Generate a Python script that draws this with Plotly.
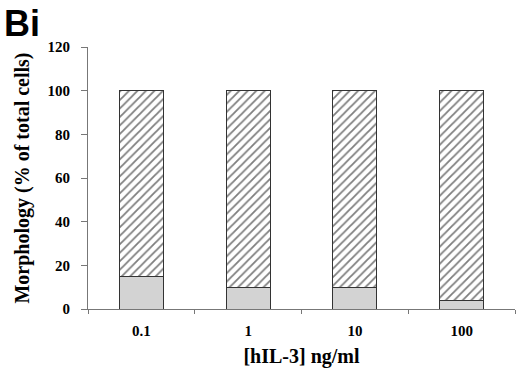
import plotly.graph_objects as go

categories = ["0.1", "1", "10", "100"]
gray_values = [15, 10, 10, 4]
hatched_values = [85, 90, 90, 96]
y_ticks = [0, 20, 40, 60, 80, 100, 120]

serif = "Liberation Serif, Times New Roman, serif"

fig = go.Figure()
fig.add_trace(go.Bar(
    x=categories, y=gray_values, width=0.41,
    marker=dict(color="#d3d3d3", line=dict(color="#333", width=1)),
    showlegend=False,
))
fig.add_trace(go.Bar(
    x=categories, y=hatched_values, width=0.41,
    marker=dict(color="white", line=dict(color="#333", width=1),
                pattern=dict(shape="/", fgcolor="#000", bgcolor="white",
                             size=6, solidity=0.3, fillmode="overlay")),
    showlegend=False,
))

fig.update_layout(
    barmode="stack",
    width=520, height=372,
    margin=dict(l=88, r=5, t=47, b=63, autoexpand=False),
    plot_bgcolor="white", paper_bgcolor="white",
    font=dict(family=serif, color="#111"),
    xaxis=dict(
        type="category", tickson="boundaries", ticks="outside", ticklen=4,
        tickcolor="#777", showline=True, linecolor="#777", linewidth=1,
        showgrid=False, range=[-0.5, 3.5],
        tickfont=dict(family=serif, size=15, color="#000", weight="bold"),
        ticklabelstandoff=8,
        title=dict(text="<b>[hIL-3] ng/ml</b>", font=dict(family=serif, size=20, color="#000"), standoff=10),
    ),
    yaxis=dict(
        range=[0, 120], tickvals=y_ticks, ticks="outside", ticklen=6,
        tickcolor="#777", showline=True, linecolor="#777", linewidth=1,
        showgrid=False, zeroline=False,
        tickfont=dict(family=serif, size=15, color="#000", weight="bold"),
        ticklabelstandoff=8,
        title=dict(text="<b>Morphology (% of total cells)</b>", font=dict(family=serif, size=20, color="#000"), standoff=12),
    ),
    annotations=[dict(
        text="<b>Bi</b>", x=0, y=1, xref="paper", yref="paper",
        xanchor="left", yanchor="top", showarrow=False,
        font=dict(family="Liberation Sans, Arial, sans-serif", size=36, color="black"),
        xshift=-86, yshift=46,
    )],
)

fig.write_html("out.html", config={"displayModeBar": False},
               post_script="document.body.style.margin='0';document.body.style.overflow='hidden';")
